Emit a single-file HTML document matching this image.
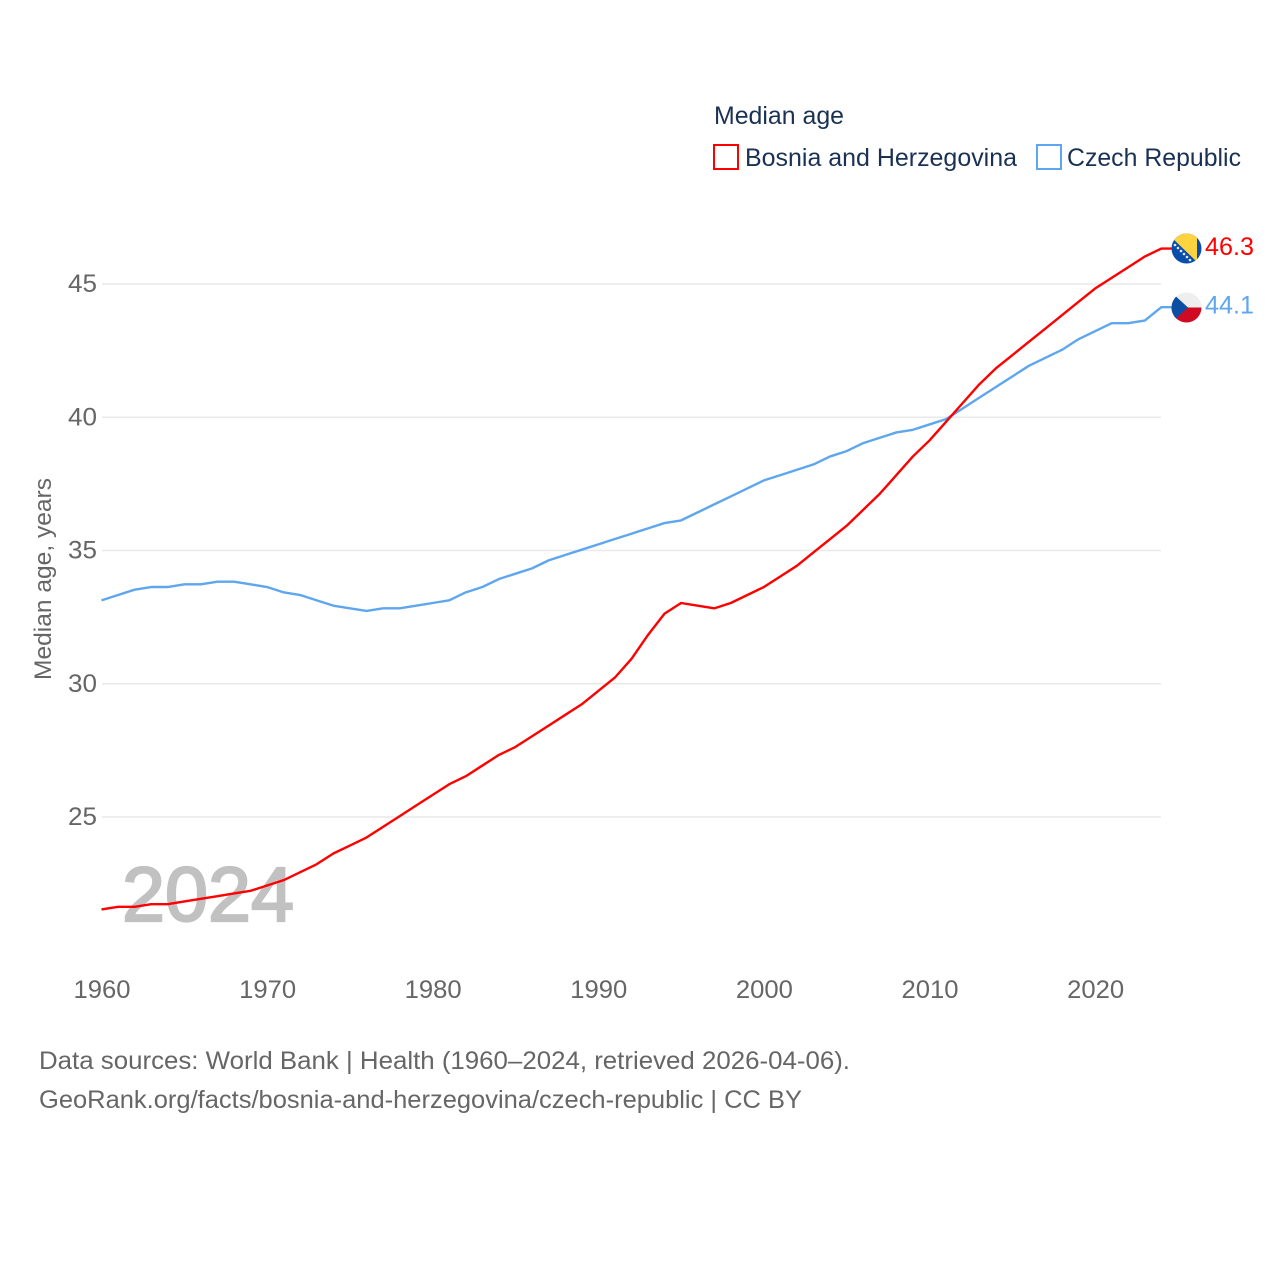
<!DOCTYPE html>
<html lang="en">
<head>
<meta charset="utf-8">
<title>Median age: Bosnia and Herzegovina vs Czech Republic</title>
<style>
html,body{margin:0;padding:0;background:#fff;}
svg{display:block;}
text{font-family:"Liberation Sans",sans-serif;}
</style>
</head>
<body>
<svg id="chart" xmlns="http://www.w3.org/2000/svg" width="1280" height="1280" viewBox="0 0 1280 1280">
  <defs>
    <clipPath id="flag-clip-ba"><circle cx="1186.5" cy="248.5" r="15"/></clipPath>
    <clipPath id="flag-clip-cz"><circle cx="1186.5" cy="307.5" r="15"/></clipPath>
  </defs>
  <g id="grid"></g>
  <text x="122" y="921" font-size="77" font-weight="400" fill="#c1c1c1" stroke="#c1c1c1" stroke-width="2.2" textLength="172" lengthAdjust="spacingAndGlyphs">2024</text>
  <g id="yticks"></g>
  <g id="xticks"></g>
  <g id="lines" transform="translate(-0.5,-0.8)"></g>
  <text transform="translate(51,680) rotate(-90)" font-size="24" fill="#666666" textLength="202" lengthAdjust="spacingAndGlyphs">Median age, years</text>

  <text x="714" y="124" font-size="25" fill="#1a3154" textLength="130" lengthAdjust="spacingAndGlyphs">Median age</text>
  <g>
    <rect x="714" y="145" width="24" height="24" fill="none" stroke="#ff0000" stroke-width="2"/>
    <text x="745" y="166" font-size="25" fill="#1a3154" textLength="272" lengthAdjust="spacingAndGlyphs">Bosnia and Herzegovina</text>
  </g>
  <g>
    <rect x="1037" y="145" width="24" height="24" fill="none" stroke="#5ea6ee" stroke-width="2"/>
    <text x="1067" y="166" font-size="25" fill="#1a3154" textLength="174" lengthAdjust="spacingAndGlyphs">Czech Republic</text>
  </g>

  <g clip-path="url(#flag-clip-ba)">
    <rect x="1170" y="232" width="34" height="34" fill="#0a4dab"/>
    <polygon points="1166,232 1197,232 1197,262" fill="#fdd33f"/>
    <g fill="#dfe8f7">
      <circle cx="1175" cy="245" r="1.3"/><circle cx="1178" cy="248" r="1.3"/><circle cx="1181" cy="251" r="1.3"/>
      <circle cx="1184" cy="254" r="1.3"/><circle cx="1187" cy="257" r="1.3"/><circle cx="1190" cy="260" r="1.3"/>
    </g>
  </g>
  <g clip-path="url(#flag-clip-cz)">
    <rect x="1170" y="290" width="34" height="18" fill="#eeeeee"/>
    <rect x="1170" y="307.5" width="34" height="18" fill="#d10a24"/>
    <polygon points="1170,291 1188,307.5 1170,324" fill="#0b4ea2"/>
  </g>
  <g id="endlabels"></g>

  <text x="39" y="1069" font-size="25" fill="#666666" textLength="811" lengthAdjust="spacingAndGlyphs">Data sources: World Bank | Health (1960–2024, retrieved 2026-04-06).</text>
  <text x="39" y="1108" font-size="25" fill="#666666" textLength="763" lengthAdjust="spacingAndGlyphs">GeoRank.org/facts/bosnia-and-herzegovina/czech-republic | CC BY</text>
</svg>
<script>
const firstYear = 1960;
const yTickValues = [25, 30, 35, 40, 45];
const xTickValues = [1960, 1970, 1980, 1990, 2000, 2010, 2020];
const bosniaValues = [21.5,21.6,21.6,21.7,21.7,21.8,21.9,22.0,22.1,22.2,22.4,22.6,22.9,23.2,23.6,23.9,24.2,24.6,25.0,25.4,25.8,26.2,26.5,26.9,27.3,27.6,28.0,28.4,28.8,29.2,29.7,30.2,30.9,31.8,32.6,33.0,32.9,32.8,33.0,33.3,33.6,34.0,34.4,34.9,35.4,35.9,36.5,37.1,37.8,38.5,39.1,39.8,40.5,41.2,41.8,42.3,42.8,43.3,43.8,44.3,44.8,45.2,45.6,46.0,46.3];
const czechValues = [33.1,33.3,33.5,33.6,33.6,33.7,33.7,33.8,33.8,33.7,33.6,33.4,33.3,33.1,32.9,32.8,32.7,32.8,32.8,32.9,33.0,33.1,33.4,33.6,33.9,34.1,34.3,34.6,34.8,35.0,35.2,35.4,35.6,35.8,36.0,36.1,36.4,36.7,37.0,37.3,37.6,37.8,38.0,38.2,38.5,38.7,39.0,39.2,39.4,39.5,39.7,39.9,40.3,40.7,41.1,41.5,41.9,42.2,42.5,42.9,43.2,43.5,43.5,43.6,44.1];

const NS = 'http://www.w3.org/2000/svg';
function xScale(year) { return 102 + (year - 1960) * 16.56; }
function yScale(value) { return 817 - (value - 25) * 26.65; }
function make(tag, attrs, parent) {
  const el = document.createElementNS(NS, tag);
  for (const k in attrs) el.setAttribute(k, attrs[k]);
  parent.appendChild(el);
  return el;
}

const grid = document.getElementById('grid');
const yticks = document.getElementById('yticks');
const xticks = document.getElementById('xticks');
const lines = document.getElementById('lines');
const endlabels = document.getElementById('endlabels');

yTickValues.forEach(function (v) {
  const g = make('line', {x1: 102, x2: 1161, y1: yScale(v), y2: yScale(v), stroke: '#e9e9e9', 'stroke-width': 1.5}, grid);
  
  
  const t = make('text', {x: 97, y: yScale(v) + 8, 'text-anchor': 'end', 'font-size': 25, fill: '#666666', textLength: 29, lengthAdjust: 'spacingAndGlyphs'}, yticks);
  t.textContent = String(v);
  
  
});

xTickValues.forEach(function (yr) {
  const t = make('text', {x: xScale(yr), y: 998, 'text-anchor': 'middle', 'font-size': 25, fill: '#666666', textLength: 57, lengthAdjust: 'spacingAndGlyphs'}, xticks);
  t.textContent = String(yr);
  
  
});

function drawSeries(values, color, name, labelX) {
  const pts = values.map(function (v, i) {
    return xScale(firstYear + i).toFixed(2) + ',' + yScale(v).toFixed(2);
  });
  const last = values[values.length - 1];
  pts.push('1172,' + yScale(last).toFixed(2));
  const p = make('polyline', {points: pts.join(' '), fill: 'none', stroke: color, 'stroke-width': 2.4, 'stroke-linejoin': 'round'}, lines);
  
  
  const t = make('text', {x: labelX, y: yScale(last) + 5.5, 'font-size': 25, fill: color, textLength: 49, lengthAdjust: 'spacingAndGlyphs'}, endlabels);
  t.textContent = last.toFixed(1);
  
  
}
drawSeries(czechValues, '#5ea6ee', 'czech-republic', 1205);
drawSeries(bosniaValues, '#ff0000', 'bosnia', 1205);
</script>
</body>
</html>
